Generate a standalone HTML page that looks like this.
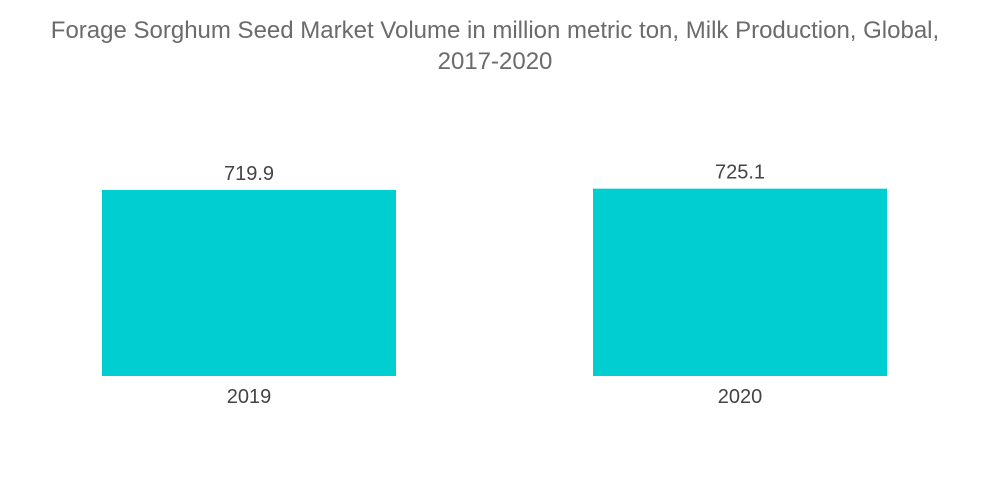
<!DOCTYPE html>
<html>
<head>
<meta charset="utf-8">
<style>
  html, body { margin: 0; padding: 0; background: #fff; }
  body { width: 1000px; height: 504px; overflow: hidden; font-family: "Liberation Sans", sans-serif; }
  #title { position: absolute; left: 0; width: 990px; top: 15px; text-align: center; color: #6b6b6b; font-size: 24px; line-height: 31px; }
</style>
</head>
<body>
<div id="title">Forage Sorghum Seed Market Volume in million metric ton, Milk Production, Global,<br>2017-2020</div>
<svg id="chart" width="1000" height="504" style="position:absolute;left:0;top:0"></svg>
<script>
const categories = ["2019", "2020"];
const values = [719.9, 725.1];
const valueLabels = ["719.9", "725.1"];

const svg = document.getElementById('chart');
const NS = 'http://www.w3.org/2000/svg';
const baseY = 376;
const pxPerUnit = 186 / 719.9;
const yScale = v => baseY - v * pxPerUnit;
const barLeft = [102, 593];
const barW = 294;

categories.forEach((c, i) => {
  const x = barLeft[i];
  const top = yScale(values[i]);
  const r = document.createElementNS(NS, 'rect');
  r.setAttribute('x', x);
  r.setAttribute('y', top);
  r.setAttribute('width', barW);
  r.setAttribute('height', baseY - top);
  r.setAttribute('fill', '#00ced1');
  
  
  svg.appendChild(r);

  const vl = document.createElementNS(NS, 'text');
  vl.setAttribute('x', x + barW / 2);
  vl.setAttribute('y', top - 10);
  vl.setAttribute('text-anchor', 'middle');
  vl.setAttribute('font-size', '20');
  vl.setAttribute('fill', '#444');
  vl.setAttribute('font-family', 'Liberation Sans, sans-serif');
  vl.textContent = valueLabels[i];
  
  
  svg.appendChild(vl);

  const cl = document.createElementNS(NS, 'text');
  cl.setAttribute('x', x + barW / 2);
  cl.setAttribute('y', baseY + 27);
  cl.setAttribute('text-anchor', 'middle');
  cl.setAttribute('font-size', '20');
  cl.setAttribute('fill', '#444');
  cl.setAttribute('font-family', 'Liberation Sans, sans-serif');
  cl.textContent = c;
  
  
  svg.appendChild(cl);
});
</script>
</body>
</html>
